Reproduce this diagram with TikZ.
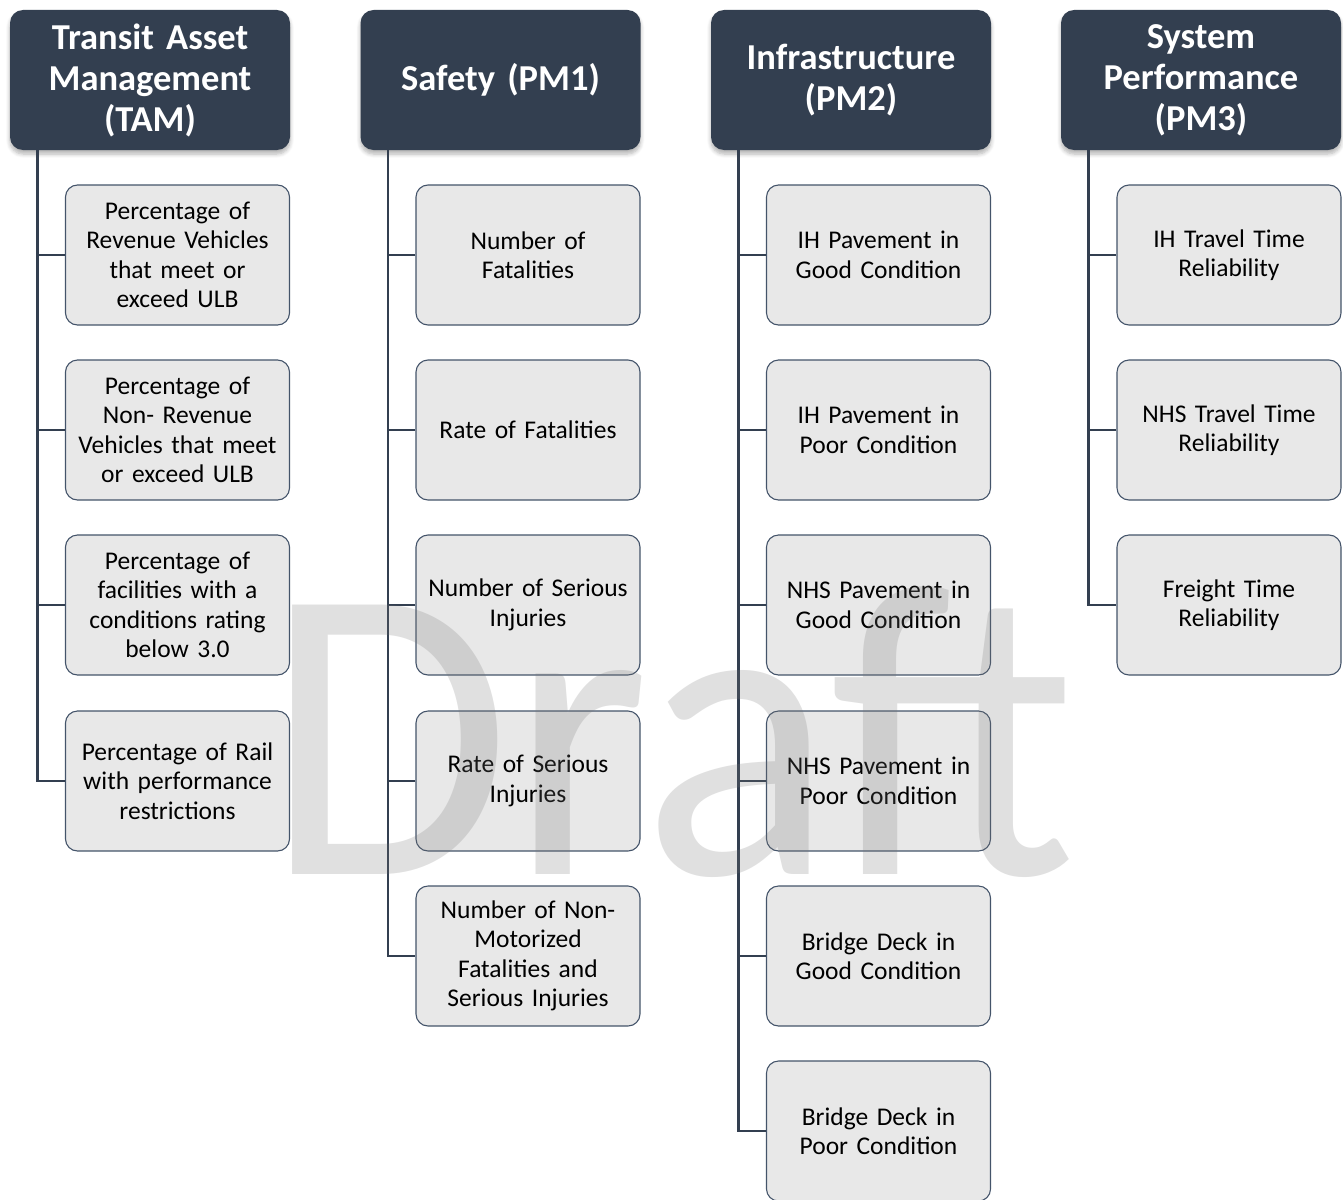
\documentclass[tikz,border=0pt]{standalone}
\usepackage{fontspec}
\setmainfont{Carlito}
\usetikzlibrary{shadows.blur}
\definecolor{hdr}{HTML}{333F50}
\definecolor{cbox}{HTML}{E8E8E8}
\definecolor{cedge}{HTML}{44546A}
\tikzset{
  hdrbox/.style={draw=none, fill=hdr, rounded corners=13pt, minimum width=280pt, minimum height=140pt,
    inner sep=0pt, text width=270pt, align=center, text=white,
    font=\fontsize{36.5}{41}\selectfont\bfseries,
    blur shadow={shadow xshift=0pt, shadow yshift=-4pt, shadow blur steps=6, shadow opacity=30, shadow blur radius=4pt}},
  kidbox/.style={draw=cedge, line width=1.1pt, fill=cbox, rounded corners=12pt, minimum width=224pt, minimum height=140pt,
    inner sep=0pt, text width=215pt, align=center, text=black,
    font=\fontsize{25.5}{29.5}\selectfont},
  conn/.style={draw=hdr, line width=2.5pt}
}
\begin{document}
\begin{tikzpicture}[x=1pt,y=-1pt]
\useasboundingbox (0,0) rectangle (1343,1199);
% headers
\node[hdrbox] (tam) at (150,80) {Transit Asset\\Management\\(TAM)};
\node[hdrbox] (pm1) at (500.5,80) {Safety (PM1)};
\node[hdrbox] (pm2) at (851,80) {Infrastructure\\(PM2)};
\node[hdrbox] (pm3) at (1201,80) {System\\Performance\\(PM3)};
% TAM children
\node[kidbox] (t1) at (177.5,255) {Percentage of\\Revenue Vehicles\\that meet or\\exceed ULB};
\node[kidbox] (t2) at (177.5,430) {Percentage of\\Non- Revenue\\Vehicles that meet\\or exceed ULB};
\node[kidbox] (t3) at (177.5,605) {Percentage of\\facilities with a\\conditions rating\\below 3.0};
\node[kidbox] (t4) at (177.5,781) {Percentage of Rail\\with performance\\restrictions};
% Safety children
\node[kidbox] (s1) at (528,255) {Number of\\Fatalities};
\node[kidbox] (s2) at (528,430) {Rate of Fatalities};
\node[kidbox] (s3) at (528,605) {Number of Serious\\Injuries};
\node[kidbox] (s4) at (528,781) {Rate of Serious\\Injuries};
\node[kidbox] (s5) at (528,956) {Number of Non-\\Motorized\\Fatalities and\\Serious Injuries};
% Infrastructure children
\node[kidbox] (i1) at (878.5,255) {IH Pavement in\\Good Condition};
\node[kidbox] (i2) at (878.5,430) {IH Pavement in\\Poor Condition};
\node[kidbox] (i3) at (878.5,605) {NHS Pavement in\\Good Condition};
\node[kidbox] (i4) at (878.5,781) {NHS Pavement in\\Poor Condition};
\node[kidbox] (i5) at (878.5,956) {Bridge Deck in\\Good Condition};
\node[kidbox] (i6) at (878.5,1131) {Bridge Deck in\\Poor Condition};
% System performance children
\node[kidbox] (p1) at (1229,255) {IH Travel Time\\Reliability};
\node[kidbox] (p2) at (1229,430) {NHS Travel Time\\Reliability};
\node[kidbox] (p3) at (1229,605) {Freight Time\\Reliability};
% connectors
\draw[conn] ([xshift=27.5pt]tam.south west) |- (t4.west);
\foreach \c in {t1,t2,t3} \draw[conn] (\c.west) -- ++(-28.5,0);
\draw[conn] ([xshift=27.5pt]pm1.south west) |- (s5.west);
\foreach \c in {s1,s2,s3,s4} \draw[conn] (\c.west) -- ++(-28.5,0);
\draw[conn] ([xshift=27.5pt]pm2.south west) |- (i6.west);
\foreach \c in {i1,i2,i3,i4,i5} \draw[conn] (\c.west) -- ++(-28.5,0);
\draw[conn] ([xshift=27.5pt]pm3.south west) |- (p3.west);
\foreach \c in {p1,p2} \draw[conn] (\c.west) -- ++(-28.5,0);
% watermark
\node[anchor=base, text=black!55, opacity=0.22, inner sep=0pt, xscale=0.95, font=\fontsize{420}{420}\selectfont] (wm) at (671,874) {Draft};
\end{tikzpicture}
\end{document}
